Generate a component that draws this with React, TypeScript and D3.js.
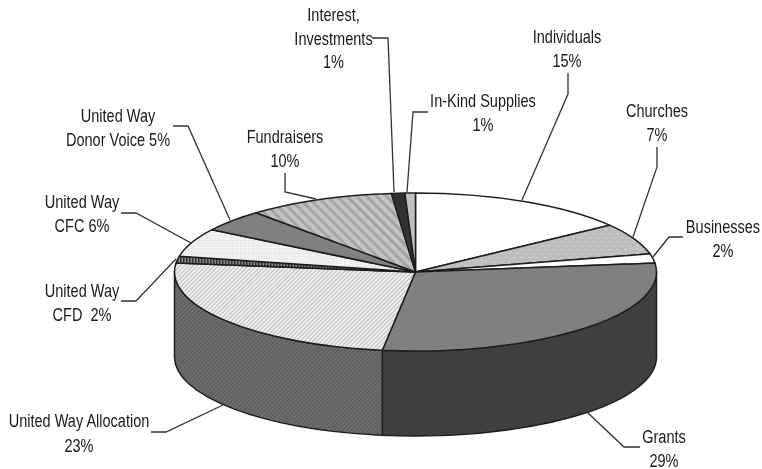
import React from "react";
import * as d3 from "d3";

const W = 762, H = 469;

// Funding sources, clockwise from 12 o'clock
const categories = ["Individuals","Churches","Businesses","Grants","United Way Allocation","United Way CFD","United Way CFC","United Way Donor Voice","Fundraisers","Interest, Investments","In-Kind Supplies"];
// Slice sizes (percent of the circle)
const sliceValues = [14.9, 6.4, 1.9, 29.0, 24.6, 1.4, 5.8, 4.5, 9.9, 0.9, 0.7];
const labelLines = [
  ["Individuals","15%"],["Churches","7%"],["Businesses","2%"],["Grants","29%"],
  ["United Way Allocation","23%"],["United Way","CFD  2%"],["United Way","CFC 6%"],
  ["United Way","Donor Voice 5%"],["Fundraisers","10%"],["Interest,","Investments","1%"],["In-Kind Supplies","1%"],
];
const topFills = ["#ffffff","url(#dots)","#ffffff","#808080","url(#hatchLight)","url(#vstripes)","url(#fineDots)","#808080","url(#wideHatch)","#333333","#c0c0c0"];
const sideFills: Record<number,string> = {3:"#404040",4:"url(#hatchDark)"};

// Label layout: centre x, first baseline, line step
const labelPos = [[567,43,24],[657,117,24],[723,233,24],[664,443,24],[79,427,25],[82,297,24],[82,208,24],[118,122,23.5],[285,143,24],[333.5,21,23.5],[483,107,24]];
// Leader polylines
const leaders = [
  [[568,73],[568,94],[522,200]],
  [[657,147],[657,167],[633,237]],
  [[683,237],[669,237],[653,257]],
  [[640,447],[624,447],[588,413]],
  [[151,432],[166,432],[223,405]],
  [[121,301],[136,301],[176,259]],
  [[121,213],[136,213],[191,243]],
  [[173,126],[188,126],[230,220]],
  [[285,173],[285,192],[316,199]],
  [[372,38],[388,38],[394,192]],
  [[428,112],[413,112],[407,192]],
];

const cx = 415.5, cy = 272, rx = 241, ry = 79, depth = 85;
const px = (a: number) => cx + rx * Math.sin(a);
const py = (a: number) => cy - ry * Math.cos(a);
const stroke = "#1f1f1f";

export default function App() {
  const arcs = d3.pie<number>().sort(null)(sliceValues);
  const wedge = (s: number, e: number) =>
    `M${cx},${cy}L${px(s)},${py(s)}A${rx},${ry} 0 ${e - s > Math.PI ? 1 : 0} 1 ${px(e)},${py(e)}Z`;
  const side = (s: number, e: number) =>
    `M${px(s)},${py(s)}A${rx},${ry} 0 0 1 ${px(e)},${py(e)}L${px(e)},${py(e) + depth}A${rx},${ry} 0 0 0 ${px(s)},${py(s) + depth}Z`;
  const leader = d3.line();
  return (
    <svg width={W} height={H} style={{ position: "absolute", left: 0, top: 0, background: "#fff" }}>
      <defs>
        <filter id="soft" x="0" y="0" width="100%" height="100%"><feGaussianBlur stdDeviation="0.4" /></filter>
        <pattern id="dots" width="8" height="8" patternUnits="userSpaceOnUse">
          <rect width="8" height="8" fill="#bdbdbd" />
          <rect x="1" y="1" width="1" height="1" fill="#ececec" />
          <rect x="5" y="5" width="1" height="1" fill="#ececec" />
        </pattern>
        <pattern id="fineDots" width="2.6" height="2.6" patternUnits="userSpaceOnUse">
          <rect width="2.6" height="2.6" fill="#f3f3f3" />
          <rect x="1" y="1" width="0.9" height="0.9" fill="#cccccc" />
        </pattern>
        <pattern id="hatchLight" width="3" height="3" patternUnits="userSpaceOnUse" patternTransform="rotate(45)">
          <rect width="3" height="3" fill="#f0f0f0" />
          <rect width="1" height="3" fill="#bbbbbb" />
        </pattern>
        <pattern id="hatchDark" width="3" height="3" patternUnits="userSpaceOnUse" patternTransform="rotate(45)">
          <rect width="3" height="3" fill="#6e6e6e" />
          <rect width="1" height="3" fill="#585858" />
        </pattern>
        <pattern id="wideHatch" width="7" height="7" patternUnits="userSpaceOnUse" patternTransform="rotate(-45)">
          <rect width="7" height="7" fill="#c2c2c2" />
          <rect width="3" height="7" fill="#a4a4a4" />
        </pattern>
        <pattern id="vstripes" width="3" height="3" patternUnits="userSpaceOnUse">
          <rect width="3" height="3" fill="#8a8a8a" />
          <rect width="1.5" height="3" fill="#333333" />
        </pattern>
      </defs>
      <g filter="url(#soft)">
        {arcs.map((a, i) => {
          if (!sideFills[i]) return null;
          const s = Math.max(a.startAngle, Math.PI / 2);
          const e = Math.min(a.endAngle, (3 * Math.PI) / 2);
          return <path key={i} d={side(s, e)} fill={sideFills[i]} stroke={stroke} strokeWidth={1.5} strokeLinejoin="round" />;
        })}
        {arcs.map((a, i) => (
          <path key={i} d={wedge(a.startAngle, a.endAngle)} fill={topFills[i]} stroke={stroke} strokeWidth={1.5} strokeLinejoin="round" />
        ))}
        {leaders.map((l, i) => (
          <path key={i} d={leader(l as [number, number][]) ?? ""} fill="none" stroke="#333" strokeWidth={1.3} />
        ))}
        {labelLines.map((lines, i) =>
          lines.map((t, j) => (
            <text
              key={`${categories[i]}-${j}`}
              transform={`translate(${labelPos[i][0]},${labelPos[i][1] + j * labelPos[i][2]}) scale(0.83,1)`}
              textAnchor="middle"
              fontFamily="'Liberation Sans', Arial, sans-serif"
              fontSize={17.5}
              fill="#1a1a1a"
              style={{ whiteSpace: "pre" }}
            >
              {t}
            </text>
          ))
        )}
      </g>
    </svg>
  );
}
